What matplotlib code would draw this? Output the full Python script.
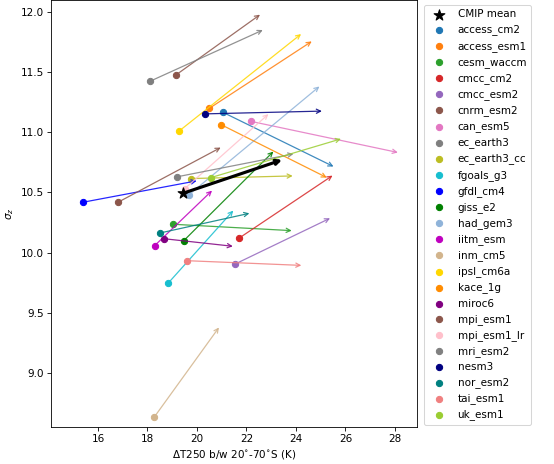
import numpy as np
import matplotlib
matplotlib.use("Agg")
import matplotlib.pyplot as plt

# model names and colours
models = ["access_cm2", "access_esm1", "cesm_waccm", "cmcc_cm2", "cmcc_esm2",
          "cnrm_esm2", "can_esm5", "ec_earth3", "ec_earth3_cc", "fgoals_g3",
          "gfdl_cm4", "giss_e2", "had_gem3", "iitm_esm", "inm_cm5",
          "ipsl_cm6a", "kace_1g", "miroc6", "mpi_esm1", "mpi_esm1_lr",
          "mri_esm2", "nesm3", "nor_esm2", "tai_esm1", "uk_esm1"]
colors = ["#1f77b4", "#ff7f0e", "#2ca02c", "#d62728", "#9467bd",
          "#8c564b", "#e377c2", "#7f7f7f", "#bcbd22", "#17becf",
          "blue", "green", "#8fb3d9", "m", "tan",
          "gold", "darkorange", "purple", "#8c564b", "pink",
          "gray", "navy", "teal", "lightcoral", "yellowgreen"]

# historical (start) values
dT_hist = [21.04, 20.49, 19.03, 21.69, 21.55,
           19.14, 22.20, 18.09, 19.75, 18.84,
           15.39, 19.47, 19.67, 18.29, 18.28,
           19.29, 20.99, 18.66, 16.81, 19.50,
           19.18, 20.33, 18.52, 19.60, 20.56]
sig_hist = [11.167, 11.198, 10.235, 10.118, 9.905,
            11.475, 11.090, 11.423, 10.615, 9.746,
            10.418, 10.099, 10.479, 10.057, 8.633,
            11.012, 11.062, 10.115, 10.418, 10.530,
            10.629, 11.153, 10.163, 9.932, 10.623]

# future (end) values
dT_fut = [25.52, 24.64, 23.83, 25.48, 25.38,
          22.55, 28.12, 22.66, 23.87, 21.47,
          19.99, 23.09, 24.95, 20.61, 20.89,
          24.21, 25.25, 21.45, 20.96, 22.89,
          23.90, 25.05, 22.12, 24.22, 25.82]
sig_fut = [10.715, 11.756, 10.182, 10.640, 10.285,
           11.978, 10.832, 11.850, 10.637, 10.349,
           10.596, 10.840, 11.381, 10.515, 9.377,
           11.817, 10.623, 10.052, 10.873, 11.151,
           10.820, 11.176, 10.326, 9.893, 10.945]

# multi-model mean
mean_hist = (19.44, 10.493)
mean_fut = (23.52, 10.776)

fig, ax = plt.subplots(figsize=(554 / 75, 464 / 75), dpi=75)
fig.subplots_adjust(left=0.092, right=0.753, top=1.0, bottom=0.08)

ax.scatter(mean_hist[0], mean_hist[1], marker="*", s=120, color="k",
           zorder=5, label="CMIP mean")
ax.annotate("", xy=mean_fut, xytext=mean_hist,
            arrowprops=dict(arrowstyle="->", color="k", lw=3), zorder=4)

for i, m in enumerate(models):
    ax.scatter(dT_hist[i], sig_hist[i], s=36, color=colors[i], label=m, zorder=3)
    ax.annotate("", xy=(dT_fut[i], sig_fut[i]), xytext=(dT_hist[i], sig_hist[i]),
                arrowprops=dict(arrowstyle="->", color=colors[i], lw=1.2,
                                alpha=0.85, shrinkA=0, shrinkB=0))

ax.set_xlim(14.1, 28.9)
ax.set_ylim(8.55, 12.1)
ax.set_xticks([16, 18, 20, 22, 24, 26, 28])
ax.set_xlabel("ΔT250 b/w 20$^{\\circ}$-70$^{\\circ}$S (K)")
ax.set_ylabel("$\\sigma_z$")
ax.legend(loc="upper left", bbox_to_anchor=(1.005, 1.0))

plt.savefig("out.png", dpi=75)
